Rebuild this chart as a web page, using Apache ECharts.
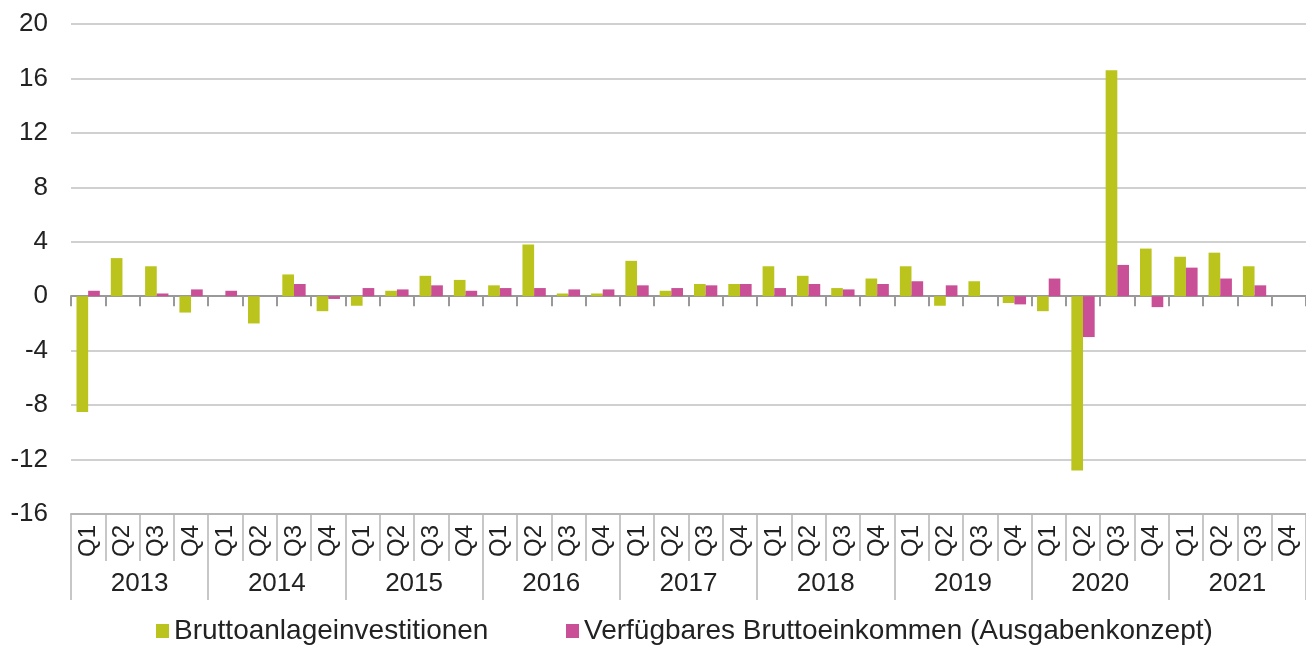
<!DOCTYPE html>
<html><head><meta charset="utf-8">
<script src="https://cdn.jsdelivr.net/npm/echarts@6/dist/echarts.min.js"></script>
<style>html,body{margin:0;padding:0;background:#fff}#c{width:1306px;height:646px}</style>
</head><body><div id="c"></div>
<script>
const quarters = ['Q1','Q2','Q3','Q4','Q1','Q2','Q3','Q4','Q1','Q2','Q3','Q4','Q1','Q2','Q3','Q4','Q1','Q2','Q3','Q4','Q1','Q2','Q3','Q4','Q1','Q2','Q3','Q4','Q1','Q2','Q3','Q4','Q1','Q2','Q3','Q4'];
const years = ['2013','2014','2015','2016','2017','2018','2019','2020','2021'];
const yTicks = [-16,-12,-8,-4,0,4,8,12,16,20];
const seriesNames = ['Bruttoanlageinvestitionen','Verfügbares Bruttoeinkommen (Ausgabenkonzept)'];
const brutto = [-8.5, 2.8, 2.2, -1.2, 0, -2.0, 1.6, -1.1, -0.7, 0.4, 1.5, 1.2, 0.8, 3.8, 0.2, 0.2, 2.6, 0.4, 0.9, 0.9, 2.2, 1.5, 0.6, 1.3, 2.2, -0.7, 1.1, -0.5, -1.1, -12.8, 16.6, 3.5, 2.9, 3.2, 2.2, null];
const verfuegbar = [0.4, 0, 0.2, 0.5, 0.4, 0, 0.9, -0.2, 0.6, 0.5, 0.8, 0.4, 0.6, 0.6, 0.5, 0.5, 0.8, 0.6, 0.8, 0.9, 0.6, 0.9, 0.5, 0.9, 1.1, 0.8, 0, -0.6, 1.3, -3.0, 2.3, -0.8, 2.1, 1.3, 0.8, null];

const chart = echarts.init(document.getElementById('c'));
const font = 'Liberation Sans, Arial, sans-serif';
const legendText = {fontSize: 28, color: '#222', fontFamily: font};
chart.setOption({
  animation: false,
  textStyle: {fontFamily: font},
  grid: {left: 71, right: 0, top: 24, bottom: 132, containLabel: false},
  legend: [
    {data: [seriesNames[0]], left: 156, top: 617, padding: 0, icon: 'rect', itemWidth: 13, itemHeight: 14, textStyle: legendText},
    {data: [seriesNames[1]], left: 566, top: 617, padding: 0, icon: 'rect', itemWidth: 13, itemHeight: 14, textStyle: legendText}
  ],
  xAxis: [
    {type: 'category', data: quarters, position: 'bottom',
     axisLine: {onZero: true, lineStyle: {color: '#999', width: 2}},
     axisTick: {show: true, length: 10, lineStyle: {color: '#999', width: 2}},
     axisLabel: {show: false}, splitLine: {show: false}},
    {type: 'category', data: quarters, position: 'bottom',
     axisLine: {onZero: false, lineStyle: {color: '#b5b5b5', width: 2}},
     axisTick: {show: true, length: 47, lineStyle: {color: '#b5b5b5', width: 1.5}},
     axisLabel: {rotate: 90, margin: 11, fontSize: 24, color: '#222', fontFamily: font, interval: 0}},
    {type: 'category', data: years, position: 'bottom',
     axisLine: {show: false, onZero: false},
     axisTick: {show: true, length: 86, lineStyle: {color: '#b5b5b5', width: 1.5}},
     axisLabel: {margin: 57, fontSize: 26, color: '#222', fontFamily: font, interval: 0}}
  ],
  yAxis: {
    type: 'value', min: -16, max: 20, interval: 4,
    axisLine: {show: false}, axisTick: {show: false},
    axisLabel: {fontSize: 26, color: '#222', margin: 23, fontFamily: font,
      formatter: v => yTicks.includes(v) ? String(v) : ''},
    splitLine: {lineStyle: {color: '#d0d0d0', width: 2}}
  },
  series: [
    {name: seriesNames[0], type: 'bar', xAxisIndex: 0, data: brutto,
     itemStyle: {color: '#bac41c'}, barGap: '0%', barCategoryGap: '32%'},
    {name: seriesNames[1], type: 'bar', xAxisIndex: 0, data: verfuegbar,
     itemStyle: {color: '#c94f97'}, barGap: '0%', barCategoryGap: '32%'}
  ]
});
</script></body></html>
